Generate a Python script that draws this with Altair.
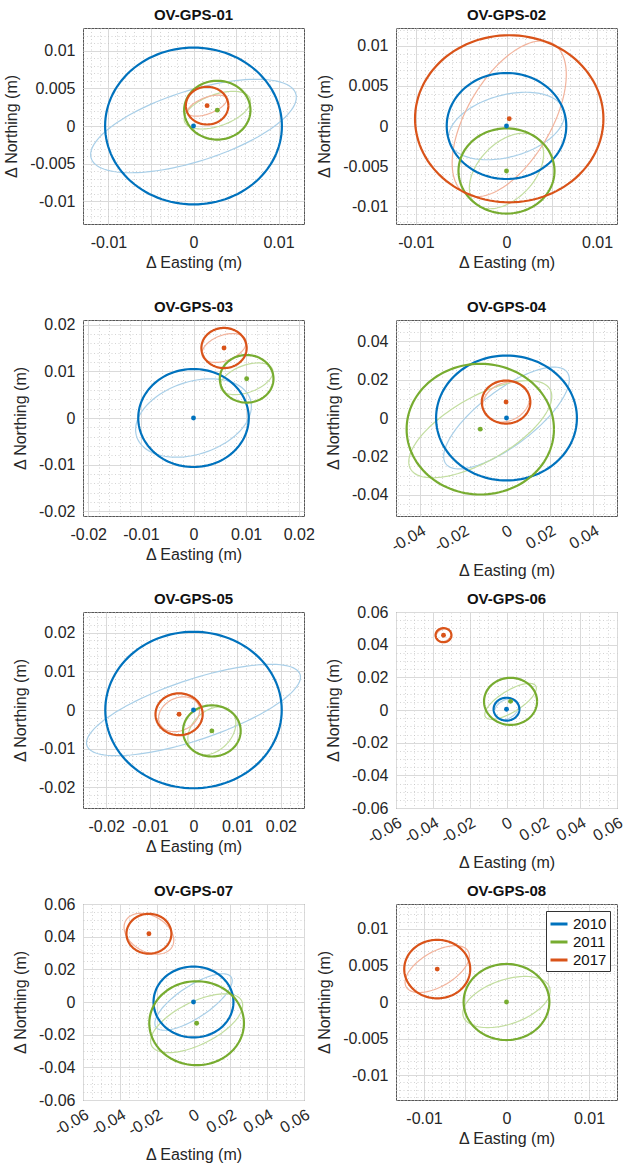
import altair as alt
import pandas as pd

FONT = "Liberation Sans"

STATIONS = ["OV-GPS-01", "OV-GPS-02", "OV-GPS-03", "OV-GPS-04",
            "OV-GPS-05", "OV-GPS-06", "OV-GPS-07", "OV-GPS-08"]
YEARS = ["2010", "2011", "2017"]

# one row per station and survey year
ROW_STATION = (["OV-GPS-01"] * 3 + ["OV-GPS-02"] * 3 + ["OV-GPS-03"] * 3 +
               ["OV-GPS-04"] * 3 + ["OV-GPS-05"] * 3 + ["OV-GPS-06"] * 3 +
               ["OV-GPS-07"] * 3 + ["OV-GPS-08"] * 2)
ROW_YEAR = ["2010", "2011", "2017"] * 7 + ["2011", "2017"]

# position offsets (m)
EAST = [0.0, 0.0028, 0.0016,
        0.0, 0.0, 0.0003,
        0.0, 0.0101, 0.0058,
        0.0, -0.0121, -0.0002,
        0.0, 0.0042, -0.0033,
        0.0, 0.0022, -0.0342,
        0.0, 0.0017, -0.0242,
        0.0, -0.0084]
NORTH = [0.0, 0.0021, 0.0027,
         0.0, -0.0056, 0.0009,
         0.0, 0.0084, 0.0150,
         0.0, -0.0058, 0.0083,
         0.0, -0.0054, -0.0011,
         0.0005, 0.0053, 0.0458,
         0.0, -0.0130, 0.0418,
         0.0, 0.0045]
# thick circle radius (m)
RADIUS = [0.0104, 0.0039, 0.0025,
          0.0066, 0.0053, 0.0104,
          0.0105, 0.0051, 0.0043,
          0.0325, 0.0340, 0.0112,
          0.0202, 0.0066, 0.0054,
          0.0070, 0.0144, 0.0043,
          0.0217, 0.0257, 0.0122,
          0.0052, 0.0040]
# thin error ellipse: half width, half height, northing at the eastmost point
ELL_SX = [0.0121, 0.0039, 0.0023,
          0.0064, 0.0041, 0.0063,
          0.0110, 0.0050, 0.0042,
          0.0290, 0.0330, 0.0108,
          0.0245, 0.0055, 0.0047,
          0.0066, 0.0140, 0.0041,
          0.0210, 0.0250, 0.0135,
          0.0053, 0.0039]
ELL_SY = [0.0062, 0.0025, 0.0014,
          0.0042, 0.0047, 0.0097,
          0.0084, 0.0034, 0.0031,
          0.0265, 0.0253, 0.0104,
          0.0118, 0.0062, 0.0045,
          0.0064, 0.0110, 0.0040,
          0.0173, 0.0180, 0.0125,
          0.0035, 0.0032]
ELL_K = [0.0038, 0.0012, 0.0008,
         0.0014, 0.0021, 0.0055,
         0.0025, 0.0015, 0.0012,
         0.0200, 0.0170, 0.0020,
         0.0085, 0.0020, 0.0010,
         0.0020, 0.0080, 0.0010,
         0.0130, 0.0110, -0.0040,
         0.0015, 0.0018]

AXIS_LIMIT = [0.013, 0.0122, 0.021, 0.051, 0.0253, 0.06, 0.06, 0.0134]
MAJOR_STEP = [0.005, 0.005, 0.01, 0.02, 0.01, 0.02, 0.02, 0.005]
MINOR_STEP = [0.001, 0.001, 0.002, 0.005, 0.002, 0.005, 0.005, 0.001]
X_TICK_LABELS = [[-0.01, 0, 0.01],
                 [-0.01, 0, 0.01],
                 [-0.02, -0.01, 0, 0.01, 0.02],
                 [-0.04, -0.02, 0, 0.02, 0.04],
                 [-0.02, -0.01, 0, 0.01, 0.02],
                 [-0.06, -0.04, -0.02, 0, 0.02, 0.04, 0.06],
                 [-0.06, -0.04, -0.02, 0, 0.02, 0.04, 0.06],
                 [-0.01, 0, 0.01]]
Y_TICK_LABELS = [[-0.01, -0.005, 0, 0.005, 0.01],
                 [-0.01, -0.005, 0, 0.005, 0.01],
                 [-0.02, -0.01, 0, 0.01, 0.02],
                 [-0.04, -0.02, 0, 0.02, 0.04],
                 [-0.02, -0.01, 0, 0.01, 0.02],
                 [-0.06, -0.04, -0.02, 0, 0.02, 0.04, 0.06],
                 [-0.06, -0.04, -0.02, 0, 0.02, 0.04, 0.06],
                 [-0.01, -0.005, 0, 0.005, 0.01]]
ROTATED = [False, False, False, True, False, True, True, False]

DARK = {"2010": "#0072BD", "2011": "#77AC30", "2017": "#D95319"}
LIGHT = {"2010": "#a9cfe8", "2011": "#c2dd9f", "2017": "#f2b39c"}

df = pd.DataFrame({
    "station": ROW_STATION, "year": ROW_YEAR, "E": EAST, "N": NORTH,
    "R": RADIUS, "SX": ELL_SX, "SY": ELL_SY, "K": ELL_K,
})
df["dark"] = df["year"].map(DARK)
df["light"] = df["year"].map(LIGHT)


def make_axis(idx, horizontal):
    labels = X_TICK_LABELS[idx] if horizontal else Y_TICK_LABELS[idx]
    lim, major, minor = AXIS_LIMIT[idx], MAJOR_STEP[idx], MINOR_STEP[idx]
    n = int(lim / minor + 1e-9)
    vals = sorted(set([round(i * minor, 6) for i in range(-n, n + 1)] + [-lim, lim]))
    lab = "[" + ",".join(repr(v) for v in labels) + "]"
    is_major = f"abs(datum.value/{major} - round(datum.value/{major})) < 1e-6"
    kw = dict(
        values=vals,
        labelExpr=f"indexof({lab}, datum.value) >= 0 ? datum.value + '' : ''",
        grid=True,
        gridDash={"condition": {"test": is_major, "value": []}, "value": [1, 2.5]},
        gridColor={"condition": {"test": is_major, "value": "#dadada"}, "value": "#c2c2c2"},
        gridWidth={"condition": {"test": is_major, "value": 1}, "value": 0.7},
        labelOverlap=False, labelFlush=False, labelBound=False,
        ticks=False, domain=False,
    )
    if horizontal:
        kw["title"] = "\u0394 Easting (m)"
        if ROTATED[idx]:
            kw.update(labelAngle=330, labelAlign="right", labelBaseline="middle",
                      labelPadding=13, labelOffset=4, titlePadding=8)
        else:
            kw.update(labelPadding=10, titlePadding=4)
    else:
        kw.update(title="\u0394 Northing (m)", labelPadding=8, titlePadding=10)
    return alt.Axis(**kw)


def panel(idx):
    st = STATIONS[idx]
    d = df[df.station == st]
    lim = AXIS_LIMIT[idx]
    xs = alt.Scale(domain=[-lim, lim], nice=False, zero=False)
    ys = alt.Scale(domain=[-lim, lim], nice=False, zero=False)
    xa = make_axis(idx, True)
    ya = make_axis(idx, False)

    ring = (alt.Chart(d)
            .transform_calculate(i="sequence(0, 121)")
            .transform_flatten(["i"])
            .transform_calculate(t="datum.i * 2 * PI / 120"))

    thin = ring.transform_calculate(
        ex="datum.E + datum.SX * cos(datum.t)",
        ny="datum.N + datum.K * cos(datum.t) + sqrt(datum.SY * datum.SY - datum.K * datum.K) * sin(datum.t)",
    ).mark_line(strokeWidth=1.2, clip=True).encode(
        x=alt.X("ex:Q", scale=xs, axis=xa),
        y=alt.Y("ny:Q", scale=ys, axis=ya),
        color=alt.Color("light:N", scale=None),
        detail="year:N",
        order="i:Q",
    )

    if idx == 7:
        legend = alt.Legend(orient="top-right", title=None, symbolType="stroke",
                            symbolStrokeWidth=3, symbolSize=289, labelFont=FONT,
                            labelFontSize=15, labelColor="#111", fillColor="white",
                            strokeColor="#333", padding=3, offset=7, rowPadding=0,
                            labelOffset=4, cornerRadius=0)
    else:
        legend = None

    thick = ring.transform_calculate(
        ex="datum.E + datum.R * cos(datum.t)",
        ny="datum.N + datum.R * sin(datum.t)",
    ).mark_line(strokeWidth=2.2, clip=True).encode(
        x=alt.X("ex:Q", scale=xs, axis=xa),
        y=alt.Y("ny:Q", scale=ys, axis=ya),
        color=alt.Color("year:N", scale=alt.Scale(domain=YEARS, range=[DARK[y] for y in YEARS]),
                        legend=legend),
        detail="year:N",
        order="i:Q",
    )

    pts = alt.Chart(d).mark_circle(size=24, opacity=1).encode(
        x=alt.X("E:Q", scale=xs, axis=xa),
        y=alt.Y("N:Q", scale=ys, axis=ya),
        color=alt.Color("dark:N", scale=None),
    )

    return alt.layer(thin, thick, pts).properties(
        width=221, height=196,
        title=alt.TitleParams(st, font=FONT, fontSize=15, fontWeight="bold",
                              color="#111", offset=-3, frame="group"),
    )


chart = alt.concat(
    *[panel(i) for i in range(8)],
    columns=2,
    spacing={"row": 96, "column": 92},
    bounds="flush",
).resolve_scale(
    x="independent", y="independent", color="independent"
).resolve_legend(
    color="independent"
).properties(
    padding={"left": 3, "top": 7, "right": 0, "bottom": 0},
    background="white",
).configure_view(
    stroke="#555", strokeWidth=1, fill="white"
).configure_axis(
    labelFont=FONT, labelFontSize=16, labelColor="#262626",
    titleFont=FONT, titleFontSize=16, titleFontWeight="normal", titleColor="#262626",
)

chart.save("out.html", embed_options={"renderer": "svg", "actions": False})
